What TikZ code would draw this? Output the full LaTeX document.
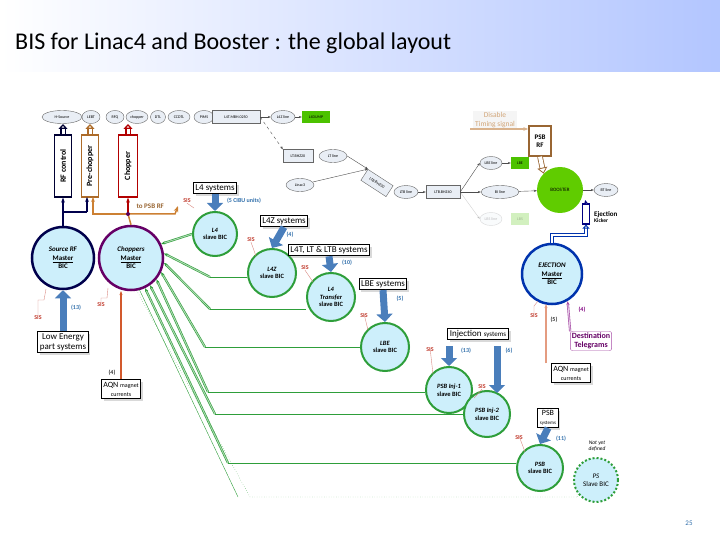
\documentclass[tikz,border=0pt]{standalone}
\usepackage{fontspec}
\setmainfont{Carlito}
\usetikzlibrary{arrows.meta,shapes.geometric,shadings,shadows}
\definecolor{bic}{HTML}{CDEFFB}
\definecolor{gr}{HTML}{2E9E3A}
\definecolor{fat}{HTML}{4A7EBB}
\definecolor{num}{HTML}{2F6EAA}
\definecolor{sisc}{HTML}{C0392B}
\definecolor{bl}{HTML}{E9EEF5}
\begin{document}
\begin{tikzpicture}[x=1pt,y=-1pt,
 every node/.style={font=\fontsize{7}{8}\selectfont},
 beam/.style={ellipse,draw=black!60,fill=bl,inner sep=1pt,minimum height=13pt,font=\fontsize{4}{5}\selectfont},
 beamr/.style={rectangle,draw=black!60,fill=bl,inner sep=2pt,minimum height=13pt,font=\fontsize{4}{5}\selectfont},
 gbox/.style={rectangle,fill=green!60!black!60!lime,inner sep=2pt,minimum height=12pt,font=\fontsize{4}{5}\selectfont},
 slave/.style={circle,draw=gr,line width=2pt,fill=bic,align=center,inner sep=0pt,font=\fontsize{6.5}{7.5}\selectfont\bfseries},
 sbox/.style={rectangle,draw=black,line width=1pt,fill=white,align=center,inner sep=2pt,font=\fontsize{9}{10}\selectfont,drop shadow={opacity=0.3}},
 fatarr/.style={draw=fat,line width=7pt,-{Triangle[width=16pt,length=8pt]}},
 gline/.style={draw=gr,line width=1pt},
 garr/.style={gr,double=gr!40,double distance=1pt,line width=0.6pt,-{Stealth[length=4pt]}},
 sis/.style={text=sisc,font=\fontsize{6}{7}\selectfont\bfseries,inner sep=0pt},
 nm/.style={text=num,font=\fontsize{6}{7}\selectfont\bfseries,inner sep=0pt},
 ba/.style={-{Stealth[length=3pt]},black!70,thin}]
\useasboundingbox (0,0) rectangle (720,540);
\shade[left color=white,right color=cyan!25!blue!30] (0,0) rectangle (720,72);
\node[anchor=west,font=\fontsize{24}{28}\selectfont,inner sep=0] (title) at (15,43) {BIS for Linac4 and Booster : the global layout};
\node[font=\fontsize{7}{8}\selectfont,text=num] (pg) at (689,523) {25};
% top beam line
\node[beam,minimum width=40pt] (hs) at (62,117) {H-Source};
\node[beam,minimum width=18pt] (lebt) at (91,117) {LEBT};
\node[beam,minimum width=18pt] (rfq) at (115,117) {RFQ};
\node[beam,minimum width=22pt] (chp) at (137,117) {chopper};
\node[beam,minimum width=15pt] (dtl) at (158,117) {DTL};
\node[beam,minimum width=22pt] (ccdtl) at (179,117) {CCDTL};
\node[beam,minimum width=20pt] (pims) at (204,117) {PIMS};
\node[beamr,minimum width=48pt] (mbh) at (236,117) {L4T.MBH.0250};
\node[beam,minimum width=24pt] (l4z) at (283,117) {L4Z line};
\node[gbox,minimum width=28pt] (dump) at (316,117) {L4DUMP};
\node[beamr,minimum width=30pt] (bhz20) at (298,156) {LT.BHZ20};
\node[beam,minimum width=28pt] (lt) at (333,156) {LT line};
\node[beam,minimum width=28pt] (linac3) at (300,185) {Linac3};
\node[beamr,minimum width=30pt,rotate=-33] (bhz30) at (377,183) {LTB.BHZ30};
\node[beam,minimum width=24pt] (ltb) at (406,192) {LTB line};
\node[beamr,minimum width=34pt] (bhz40) at (443,192) {LTB.BHZ40};
\node[beam,minimum width=38pt] (bi) at (500,192) {BI line};
\node[beam,minimum width=22pt] (lbe) at (491,163) {LBE line};
\node[gbox,minimum width=18pt] (lbeg) at (520,163) {LBE};
\node[beam,minimum width=22pt,opacity=0.25] (lbs) at (491,219) {LBS line};
\node[gbox,minimum width=18pt,opacity=0.25] (lbsg) at (520,219) {LBS};
\node[circle,fill=green!60!black!50!lime,minimum size=46pt,inner sep=0,font=\fontsize{5}{6}\selectfont] (booster) at (560,190) {BOOSTER};
\node[beam,minimum width=24pt] (bt) at (606,190) {BT line};
\draw[ba] (mbh) -- (l4z); \draw[ba] (l4z) -- (dump);
\draw[ba,dashed] (mbh.east) -- (bhz20.north west);
\draw[ba] (lt.east) -- (bhz30.north west);
\draw[ba] (linac3) -- (bhz30.north west);
\draw[ba] (ltb) -- (bhz40); \draw[ba] (bhz40) -- (bi);
\draw[ba] (bhz40.east) -- (lbe.west); \draw[ba,opacity=0.25] (bhz40.east) -- (lbs.west);
\draw[ba] (lbe) -- (lbeg); \draw[ba] (bi) -- (booster); \draw[ba] (booster) -- (bt);
% PSB RF
\node[rectangle,draw=brown!80!black,line width=1.5pt,fill=white,minimum width=22pt,minimum height=30pt,align=center,font=\fontsize{7}{8}\selectfont\bfseries,inner sep=1pt] (psbrf) at (540,141) {PSB\\RF};
\draw[brown!80!black,double=white,double distance=4pt,line width=0.8pt,-{Triangle[open,length=6pt,width=10pt]}] (psbrf.south) -- (booster.north west);
\node[rectangle,fill=black!4,align=center,text=brown!70,font=\fontsize{7.5}{8.5}\selectfont,inner sep=2pt] (dis) at (495,120) {Disable\\Timing signal};
\draw[brown!60,line width=1.5pt,-{Stealth[length=5pt]}] (470,129) -- (psbrf.west|-0,129);
\node[rectangle,draw=blue!50!black,line width=1.2pt,fill=white,minimum width=7pt,minimum height=20pt,inner sep=0] (kick) at (586,214) {};
\node[anchor=west,align=left,font=\fontsize{7}{7}\selectfont\bfseries,inner sep=0] (kt) at (594,217) {Ejection\\[-1pt]{\fontsize{5.5}{6}\selectfont Kicker}};
\draw[blue!50!black,line width=1pt,double=white,double distance=1.5pt,-{Triangle[open,length=4pt,width=6pt]}] (kick.north) -- (584,205);
% vertical control arrows
\node[rectangle,draw=black!80!blue,line width=1.3pt,fill=white,minimum width=17pt,minimum height=62pt,inner sep=0] (rfc) at (63,166) {};
\node[rotate=90,font=\fontsize{8}{9}\selectfont\bfseries] (rfct) at (63,166) {RF control};
\node[rectangle,draw=brown!80!black!80!orange,line width=1.3pt,fill=white,minimum width=17pt,minimum height=62pt,inner sep=0] (prc) at (90,166) {};
\node[rotate=90,font=\fontsize{8}{9}\selectfont\bfseries] (prct) at (90,166) {Pre-chopper};
\node[rectangle,draw=red!70!black,line width=1.3pt,fill=white,minimum width=19pt,minimum height=62pt,inner sep=0] (chc) at (128,166) {};
\node[rotate=90,font=\fontsize{8}{9}\selectfont\bfseries] (chct) at (128,166) {Chopper};
\draw[black!80!blue,line width=1.3pt,double=white,double distance=3pt,-{Triangle[open,length=5pt,width=9pt]}] (rfc.north) -- (63,124);
\draw[brown!80!black!80!orange,line width=1.3pt,double=white,double distance=3pt,-{Triangle[open,length=5pt,width=9pt]}] (prc.north) -- (90,124);
\draw[red!70!black,line width=1.3pt,double=white,double distance=3pt,-{Triangle[open,length=5pt,width=9pt]}] (chc.north) -- (128,124);
% masters
\node[circle,draw=black!70!blue,line width=2.5pt,fill=bic,minimum size=62pt,inner sep=0,align=center,font=\fontsize{7}{8.5}\selectfont\bfseries] (src) at (63,258) {\textit{Source RF}\\\underline{Master}\\BIC};
\node[circle,draw=violet!80!black,line width=2.5pt,fill=bic,minimum size=64pt,inner sep=0,align=center,font=\fontsize{7}{8.5}\selectfont\bfseries] (chm) at (131,258) {\textit{Choppers}\\\underline{Master}\\BIC};
\coordinate (j1) at (63,212); \coordinate (j2) at (128,214);
\draw[black!70!blue,line width=1.5pt] (src.north) -- (63,212) -- (87,212);
\draw[black!70!blue,line width=1.5pt,-{Stealth[length=5pt]}] (j1) -- (rfc.south);
\draw[black!70!blue,line width=1.5pt,-{Stealth[length=5pt]}] (87,212) -- (87,197);
\draw[brown!80!orange,line width=1.5pt,-{Stealth[length=5pt]}] (128,214) -- (93,214) -- (93,197);
\draw[brown!80!orange,line width=1.5pt,-{Stealth[length=6pt]}] (chm.north) -- (128,214) -- (175,214) -- (178,206);
\draw[red!70!black,line width=1.5pt,-{Stealth[length=5pt]}] (j2) -- (chc.south);
\fill[violet!70!black] (j2) circle (2pt);
\node[text=brown!80!black,font=\fontsize{7}{8}\selectfont\bfseries,anchor=west] (tpsb) at (133,206) {to PSB RF};
% slaves
\node[slave,minimum size=44pt] (s1) at (215,234) {\textit{L4}\\slave BIC};
\node[slave,minimum size=48pt] (s2) at (272,273) {\textit{L4Z}\\slave BIC};
\node[slave,minimum size=48pt] (s3) at (331,297) {\textit{L4}\\\textit{Transfer}\\slave BIC};
\node[slave,minimum size=48pt] (s4) at (385,347) {\textit{LBE}\\slave BIC};
\node[slave,minimum size=46pt] (s5) at (449,390) {\textit{PSB Inj-1}\\slave BIC};
\node[slave,minimum size=46pt] (s6) at (487,414) {\textit{PSB Inj-2}\\slave BIC};
\node[slave,minimum size=46pt] (s7) at (540,468) {\textit{PSB}\\slave BIC};
\node[circle,draw=gr,line width=2pt,dotted,fill=bic,minimum size=44pt,inner sep=0,align=center,font=\fontsize{7}{8}\selectfont] (s8) at (596,480) {\textit{PS}\\Slave BIC};
\node[font=\fontsize{5.5}{6.5}\selectfont\itshape,align=center] (nyd) at (597,446) {Not yet\\defined};
\node[circle,draw=blue!60!black!80!cyan,line width=2.5pt,fill=bic,minimum size=60pt,inner sep=0,align=center,font=\fontsize{7}{8.5}\selectfont\bfseries] (ej) at (552,274) {\textit{EJECTION}\\\underline{Master}\\BIC};
\draw[blue!60!black!80!cyan,line width=1.5pt,double=white,double distance=1.5pt,-{Triangle[open,length=4pt,width=7pt]}] (ej.north) -- (552,235) -- (586,235) -- (kick.south);
% green connections
\draw[garr] (s1.west) -- (chm.25);
\foreach \s/\y/\bx/\a in {s2/277/210/8,s3/309/210/-8,s4/347/205/-25,s5/392/208/-40,s6/414/215/-55,s7/463/228/-65}{
 \draw[gline] (\s.west|-0,\y) -- (\bx,\y);
 \draw[garr] (\bx,\y) -- (chm.\a);
}
\draw[gr,dotted,thin] (s8.west) -- (578,497) -- (250,497) -- (chm.-80);
\draw[gr,thin] (238,497) -- (chm.-75);
% system boxes and fat arrows
\node[sbox] (b1) at (215,188) {L4 systems};
\node[sbox] (b2) at (284,221) {L4Z systems};
\node[sbox] (b3) at (329,250) {L4T, LT \& LTB systems};
\node[sbox] (b4) at (383,284) {LBE systems};
\node[sbox] (b5) at (478,334) {Injection {\fontsize{7}{8}\selectfont systems}};
\node[sbox,font=\fontsize{8}{9}\selectfont] (b6) at (548,418) {PSB\\{\fontsize{5}{6}\selectfont systems}};
\node[sbox,font=\fontsize{9}{10}\selectfont] (lep) at (63,342) {Low Energy\\part systems};
\node[sbox,font=\fontsize{8}{9}\selectfont] (aqn1) at (121,389) {AQN {\fontsize{6}{7}\selectfont magnet}\\{\fontsize{6}{7}\selectfont currents}};
\node[sbox,font=\fontsize{8}{9}\selectfont] (aqn2) at (571,373) {AQN {\fontsize{6}{7}\selectfont magnet}\\{\fontsize{6}{7}\selectfont currents}};
\node[rectangle,rounded corners=2pt,draw=violet!70,fill=white,align=center,text=violet!80!black,font=\fontsize{8}{9}\selectfont\bfseries,inner sep=1.5pt] (dest) at (591,341) {Destination\\Telegrams};
\draw[fatarr] (b1.south) -- (s1.north);
\draw[fatarr] (b2.south) -- (s2.north);
\draw[fatarr] (b3.south) -- (s3.north);
\draw[fatarr] (b4.south) -- (s4.north);
\draw[fatarr] (449,346) -- (s5.north);
\draw[fatarr] (497,346) -- (497,393);
\draw[fatarr] (b6.south) -- (s7.north);
\draw[fatarr] (lep.north) -- (src.south);
\draw[brown!70!red,line width=1.5pt,-{Stealth[length=4pt]}] (aqn1.north) -- (121,291);
\draw[brown!70!red!60,line width=1.5pt,-{Stealth[length=4pt]}] (aqn2.north-|546,0) -- (546,304);
\draw[violet!70,line width=0.6pt,double=violet!20,double distance=1pt,-{Stealth[length=4pt]}] (dest.north west) -- (ej.-60);
% numbers
\node[nm] (n1) at (244,201) {(5 CIBU units)};
\node[nm] (n2) at (290,235) {(4)};
\node[nm] (n3) at (347,263) {(10)};
\node[nm] (n4) at (400,299) {(5)};
\node[nm] (n5) at (466,351) {(13)};
\node[nm] (n6) at (509,351) {(6)};
\node[nm] (n7) at (561,439) {(11)};
\node[nm] (n8) at (76,308) {(13)};
\node[nm,text=black!80] (n9) at (112,373) {(4)};
\node[nm,text=black!80] (n10) at (554,320) {(5)};
\node[nm,text=violet] (n11) at (582,310) {(4)};
% SIS
\foreach \n/\x/\y in {a/187/201,b/251/240,c/305/268,d/364/316,e/430/350,f/482/387,g/519/438,h/38/318,i/101/305,j/534/316}{
 \node[sis] (sis\n) at (\x,\y) {SIS};
}
\draw[sisc!60,thin] (sisa.south) -- (194,208);
\draw[sisc!60,thin] (sisb.south) -- (256,256);
\draw[sisc!60,thin] (sisc.south) -- (313,282);
\draw[sisc!60,thin] (sisd.north) -- (368,330);
\draw[sisc!60,thin] (sise.north) -- (433,374);
\draw[sisc!60,thin] (sisf.south) -- (474,398);
\draw[sisc!60,thin] (sisg.north) -- (525,452);
\draw[sisc!60,thin] (sish.north) -- (38,300) -- (44,300) -- (46,289);
\draw[sisc!60,thin] (sisi.north) -- (101,298) -- (107,298) -- (108,288);
\draw[sisc!60,thin] (sisj.north) -- (534,306) -- (538,301);
\end{tikzpicture}
\end{document}
